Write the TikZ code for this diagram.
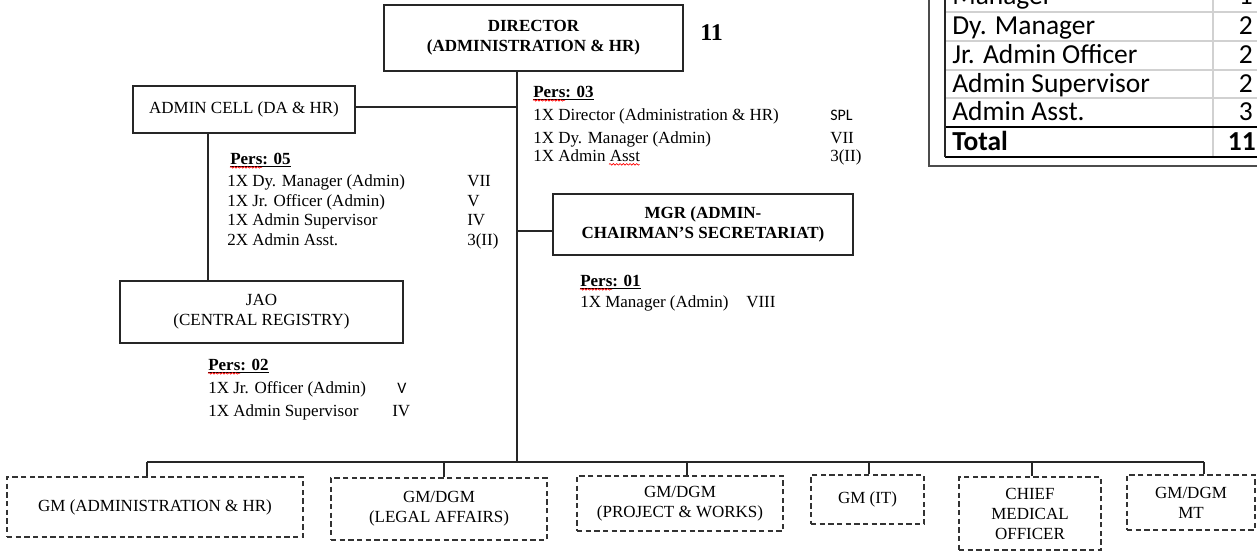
\documentclass[tikz,border=0pt]{standalone}
\usepackage{fontspec}
\setmainfont{Liberation Serif}
\newfontfamily\calfont{Carlito}
\usetikzlibrary{decorations.pathmorphing}
\newcommand\orgfont{\fontsize{12.75pt}{15pt}\selectfont}
\newcommand\tabfont{\calfont\fontsize{20.6pt}{24pt}\selectfont}
\newcommand\smsans{\calfont\fontsize{12pt}{14pt}\selectfont}
\begin{document}
\begin{tikzpicture}[x=0.75pt,y=-0.75pt,
  box/.style={draw=black!85, line width=0.9pt, align=center, inner sep=0pt, font=\orgfont},
  dbox/.style={draw=black!80, line width=0.8pt, dash pattern=on 4pt off 2.5pt, align=center, inner sep=0pt, font=\orgfont},
  conn/.style={draw=black!85, line width=1pt},
  txt/.style={inner sep=0pt, anchor=base west, font=\orgfont},
  tabtxt/.style={inner sep=0pt, anchor=base west, font=\tabfont},
  tabnum/.style={inner sep=0pt, anchor=base east, font=\tabfont},
  sq/.style={draw=red, line width=0.5pt, decorate, decoration={snake, amplitude=0.6pt, segment length=2.5pt}},
  grayline/.style={draw=black!18, line width=1.2pt},
  thickline/.style={draw=black, line width=1.6pt}
]
\useasboundingbox (0,0) rectangle (1257,551);
\clip (0,0) rectangle (1257,551);

% ---------- main boxes ----------
\node[box, font=\orgfont\bfseries, minimum width=224.25pt, minimum height=49.5pt] (dir) at (533.5,38) {DIRECTOR\\(ADMINISTRATION \& HR)};
\node[inner sep=0pt, anchor=base west, font=\fontsize{18pt}{20pt}\selectfont\bfseries] (eleven) at (700,40) {11};
\node[box, minimum width=166.5pt, minimum height=35.25pt] (admin) at (244,109.5) {ADMIN CELL (DA \& HR)};
\node[box, minimum width=212.25pt, minimum height=46.5pt] (jao) at (261.5,312) {JAO\\(CENTRAL REGISTRY)};
\node[box, font=\orgfont\bfseries, minimum width=225pt, minimum height=45.75pt] (mgr) at (703,224.5) {MGR (ADMIN-\\CHAIRMAN'S SECRETARIAT)};

% ---------- bottom dashed boxes ----------
\node[dbox, minimum width=222pt, minimum height=45pt] (b1) at (155,507) {GM (ADMINISTRATION \& HR)};
\node[dbox, minimum width=162pt, minimum height=46.5pt] (b2) at (439,509) {GM/DGM\\(LEGAL AFFAIRS)};
\node[dbox, minimum width=154.5pt, minimum height=41.25pt] (b3) at (680,503.5) {GM/DGM\\(PROJECT \& WORKS)};
\node[dbox, minimum width=84.75pt, minimum height=36.75pt] (b4) at (867.5,499.5) {GM (IT)};
\node[dbox, minimum width=106.5pt, minimum height=54.75pt] (b5) at (1030,513.5) {CHIEF\\MEDICAL\\OFFICER};
\node[dbox, minimum width=96pt, minimum height=41.25pt] (b6) at (1191,502.5) {GM/DGM\\MT};

% ---------- connectors ----------
\coordinate (tk) at (517,462);
\draw[conn] (tk |- dir.south) -- (tk);
\coordinate (acj) at (517,107);
\draw[conn] (admin.east |- acj) -- (acj);
\coordinate (jx) at (208,0);
\draw[conn] (jx |- admin.south) -- (jx |- jao.north);
\coordinate (mcj) at (517,231);
\draw[conn] (mcj) -- (mcj -| mgr.west);
\coordinate (d1) at (147,462);
\coordinate (d2) at (444,462);
\coordinate (d3) at (687,462);
\coordinate (d4) at (869,462);
\coordinate (d5) at (1032,462);
\coordinate (d6) at (1204,462);
\draw[conn] (d1) -- (d6);
\foreach \i in {1,...,6} {\draw[conn] (d\i) -- (d\i |- b\i.north);}

% ---------- Pers: 03 ----------
\node[txt] (p03) at (533,97) {\underline{\textbf{Pers: 03}}};
\node[txt] (p03a) at (533,120) {1X Director (Administration \& HR)};
\node[txt] (p03b) at (533,143) {1X Dy. Manager (Admin)};
\node[txt] (p03c) at (533,161) {1X Admin Asst};
\node[txt, font=\smsans] (g03a) at (830,120) {SPL};
\node[txt] (g03b) at (830,143) {VII};
\node[txt] (g03c) at (830,161) {3(II)};
\draw[sq] ([yshift=-2.5pt]p03.base west) -- ([xshift=24pt,yshift=-2.5pt]p03.base west);
\draw[sq] ([xshift=57pt,yshift=-2.5pt]p03c.base west) -- ([xshift=80pt,yshift=-2.5pt]p03c.base west);

% ---------- Pers: 05 ----------
\node[txt] (p05) at (230,164) {\underline{\textbf{Pers: 05}}};
\node[txt] (p05a) at (227,186) {1X Dy. Manager (Admin)};
\node[txt] (p05b) at (227,206) {1X Jr. Officer (Admin)};
\node[txt] (p05c) at (227,225) {1X Admin Supervisor};
\node[txt] (p05d) at (227,245) {2X Admin Asst.};
\node[txt] (g05a) at (467,186) {VII};
\node[txt] (g05b) at (467,206) {V};
\node[txt] (g05c) at (467,225) {IV};
\node[txt] (g05d) at (467,245) {3(II)};
\draw[sq] ([yshift=-2.5pt]p05.base west) -- ([xshift=24pt,yshift=-2.5pt]p05.base west);

% ---------- Pers: 01 ----------
\node[txt] (p01) at (580,286) {\underline{\textbf{Pers: 01}}};
\node[txt] (p01a) at (580,307) {1X Manager (Admin)};
\node[txt] (g01a) at (746,307) {VIII};
\draw[sq] ([yshift=-2.5pt]p01.base west) -- ([xshift=24pt,yshift=-2.5pt]p01.base west);

% ---------- Pers: 02 ----------
\node[txt] (p02) at (208,370) {\underline{\textbf{Pers: 02}}};
\node[txt] (p02a) at (208,393) {1X Jr. Officer (Admin)};
\node[txt] (p02b) at (208,416) {1X Admin Supervisor};
\node[txt, font=\smsans] (g02a) at (397,393) {V};
\node[txt] (g02b) at (392,416) {IV};
\draw[sq] ([yshift=-2.5pt]p02.base west) -- ([xshift=24pt,yshift=-2.5pt]p02.base west);

% ---------- table top-right ----------
\draw[grayline] (945,12) -- (1262,12);
\draw[grayline] (945,41) -- (1262,41);
\draw[grayline] (945,70) -- (1262,70);
\draw[grayline] (945,98) -- (1262,98);
\draw[grayline] (1213,-5) -- (1213,127);
\draw[grayline] (1213,127) -- (1213,157);
\draw[thickline] (945,127) -- (1262,127);
\draw[thickline] (945,157) -- (1262,157);
\draw[draw=black!85, line width=1pt] (945,-5) -- (945,157);
\draw[draw=black!70, line width=1pt] (929,-5) -- (929,166) -- (1262,166);
\node[tabtxt] (t0) at (952,4) {Manager};
\node[tabnum] (n0) at (1253,4) {1};
\node[tabtxt] (t1) at (952,34) {Dy. Manager};
\node[tabnum] (n1) at (1253,34) {2};
\node[tabtxt] (t2) at (952,63) {Jr. Admin Officer};
\node[tabnum] (n2) at (1253,63) {2};
\node[tabtxt] (t3) at (952,92) {Admin Supervisor};
\node[tabnum] (n3) at (1253,92) {2};
\node[tabtxt] (t4) at (952,120) {Admin Asst.};
\node[tabnum] (n4) at (1253,120) {3};
\node[tabtxt, font=\tabfont\bfseries] (t5) at (952,150) {Total};
\node[tabnum, font=\tabfont\bfseries] (n5) at (1256,150) {11};
\end{tikzpicture}
\end{document}
